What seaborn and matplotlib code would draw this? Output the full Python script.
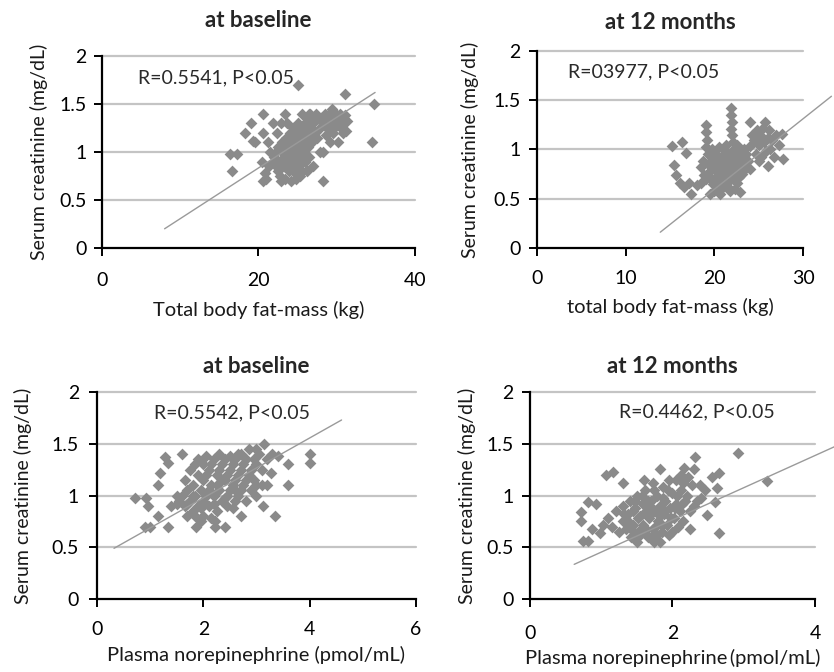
import matplotlib
matplotlib.use("Agg")
import matplotlib.pyplot as plt
import seaborn as sns
import pandas as pd

# ---------------- data ----------------
# Panel A: total body fat-mass at baseline
fat0_x = [16.3, 17.3, 16.6, 18.3, 19.1, 19.3, 19.6, 20.6, 20.6, 20.4, 20.6, 20.8, 21.0, 21.2, 21.9, 22.9,
          23.4, 22.9, 24.2, 25.0, 25.5, 26.6, 28.3, 27.8, 28.2, 29.1, 30.2, 31.2, 31.0, 34.7, 34.5,
          22.0, 22.2, 22.3, 22.5, 22.5, 22.7, 22.8, 23.0, 23.0, 23.2, 23.3, 23.4, 23.5, 23.5, 23.7, 23.8,
          23.9, 24.0, 24.0, 24.1, 24.2, 24.3, 24.4, 24.5, 24.5, 24.6, 24.7, 24.8, 24.9, 25.0, 25.0, 25.1,
          25.2, 25.3, 25.4, 25.5, 25.6, 25.7, 25.8, 25.9, 26.0, 26.0, 26.2, 26.3, 26.4, 26.5, 26.7, 26.8,
          27.0, 27.0, 27.2, 27.5, 27.5, 27.8, 23.6, 22.4, 21.8, 21.5, 21.3, 24.8, 25.3, 26.2,
          28.0, 28.3, 28.5, 28.7, 28.9, 29.0, 29.2, 29.4, 29.5, 29.7, 29.9, 30.0, 30.2, 30.4, 30.5, 30.7,
          30.9, 31.1, 31.3, 28.6, 29.5, 30.8, 26.5, 27.3,
          23.8, 24.6, 25.2, 25.6, 26.1, 24.4, 23.2, 25.8]
cre0_x = [0.98, 0.98, 0.80, 1.20, 1.30, 1.11, 1.10, 1.40, 1.20, 0.90, 0.70, 0.78, 0.72, 1.10, 1.30, 1.30,
          1.40, 0.70, 0.70, 1.70, 1.40, 1.40, 0.70, 1.00, 1.00, 1.10, 1.10, 1.22, 1.60, 1.50, 1.10,
          0.95, 1.00, 0.85, 0.80, 1.05, 0.90, 0.75, 1.00, 1.10, 0.85, 0.95, 0.72, 1.05, 1.15, 0.90, 1.00,
          0.80, 1.10, 1.20, 0.95, 1.05, 0.85, 1.25, 1.00, 1.15, 0.90, 0.78, 1.10, 1.20, 1.00, 0.85, 1.30,
          1.05, 0.95, 1.15, 1.25, 0.80, 1.10, 1.00, 1.30, 0.90, 1.20, 1.35, 1.05, 1.15, 0.95, 1.25, 1.10,
          1.30, 0.85, 1.20, 1.15, 1.35, 1.25, 1.30, 1.20, 0.90, 1.00, 0.85, 0.72, 0.75, 0.80,
          1.35, 1.30, 1.40, 1.25, 1.35, 1.40, 1.30, 1.45, 1.35, 1.25, 1.40, 1.30, 1.35, 1.40, 1.25, 1.35,
          1.30, 1.38, 1.32, 1.18, 1.20, 1.20, 1.40, 1.40,
          1.05, 1.10, 1.20, 1.00, 1.10, 0.92, 1.00, 1.20]

# Panel B: total body fat-mass at 12 months
fat12_x = [15.2, 16.3, 16.8, 15.5, 15.7, 16.1, 16.6, 17.1, 17.4, 18.0, 18.5, 18.8, 18.5, 19.5, 20.6, 22.9,
           22.3, 21.5,
           19.1, 19.1, 19.2, 19.0, 19.3,
           21.9, 21.9, 22.0, 21.9, 22.0, 22.1,
           19.3, 19.5, 19.6, 19.8, 19.9, 20.0, 20.1, 20.2, 20.3, 20.4, 20.5, 20.6, 20.7, 20.8, 20.9, 21.0,
           21.0, 21.1, 21.2, 21.3, 21.4, 21.5, 21.6, 21.7, 21.8, 21.9, 22.0, 22.1, 22.2, 22.3, 22.4, 22.5,
           22.6, 22.7, 22.8, 23.0, 23.1, 23.2, 23.4, 23.6, 23.8, 24.0, 19.7, 20.5, 21.3, 22.5, 23.3, 20.0,
           21.8, 19.0, 18.7,
           24.0, 24.2, 24.0, 24.5, 24.7, 24.8, 25.0, 25.2, 25.3, 25.5, 25.6, 25.7, 25.8, 26.0, 26.1, 26.2,
           26.3, 26.5, 26.7, 27.0, 27.3, 27.6, 27.7, 25.0, 23.1,
           20.8, 21.4, 21.9, 22.4, 20.3, 21.1, 22.8]
cre12_x = [1.03, 1.08, 0.96, 0.84, 0.74, 0.66, 0.62, 0.66, 0.55, 0.64, 0.66, 0.74, 0.82, 0.55, 0.55, 0.57,
           0.60, 0.62,
           1.25, 1.18, 1.10, 1.02, 0.95,
           1.42, 1.35, 1.28, 1.21, 1.15, 1.08,
           0.85, 0.78, 0.70, 0.90, 0.65, 0.80, 0.95, 0.72, 0.60, 0.85, 0.78, 0.68, 0.92, 0.82, 0.75, 1.00,
           0.62, 0.88, 0.70, 0.80, 0.95, 0.75, 0.85, 0.68, 0.90, 0.78, 0.98, 0.72, 0.85, 0.92, 0.78, 0.66,
           0.88, 0.80, 0.95, 0.85, 0.75, 0.90, 0.80, 0.95, 0.88, 0.80, 1.00, 1.02, 1.05, 1.05, 1.00, 0.58,
           0.58, 0.70, 0.88,
           1.28, 1.15, 1.03, 1.10, 0.95, 1.20, 1.05, 1.15, 0.92, 1.22, 1.08, 1.28, 0.98, 1.12, 0.83, 1.20,
           1.00, 1.10, 0.92, 1.15, 1.05, 1.16, 0.90, 0.88, 0.83,
           0.70, 0.88, 0.85, 0.95, 0.90, 0.78, 0.72]

# Panel C: plasma norepinephrine at baseline
ne0 = [0.72, 0.93, 0.96, 0.90, 1.00, 1.15, 1.15, 1.18, 1.28, 1.34, 1.60, 1.34, 1.40, 1.50, 1.87, 2.22,
       2.22, 2.40, 2.70, 3.13, 3.35, 3.15, 4.00, 4.00, 3.60, 3.60, 3.28, 3.40, 3.00, 3.00, 3.10, 3.20,
       1.60, 1.65, 1.70, 1.70, 1.75, 1.80, 1.80, 1.85, 1.85, 1.90, 1.90, 1.95, 2.00, 2.00, 2.00, 2.05,
       2.05, 2.10, 2.10, 2.15, 2.20, 2.20, 2.25, 2.25, 2.30, 2.30, 2.35, 2.35, 2.40, 2.45, 2.45, 2.50,
       2.50, 2.55, 2.60, 2.60, 2.65, 2.70, 2.70, 2.75, 2.80, 2.80, 2.85, 2.90, 2.95, 3.00, 3.05, 3.10,
       3.20, 3.30, 2.55, 2.15, 1.95, 2.65, 1.55, 1.50,
       1.65, 1.75, 1.80, 1.90, 1.95, 2.05, 2.10, 2.15, 2.20, 2.25, 2.30, 2.35, 2.40, 2.40, 2.50, 2.55,
       2.60, 2.65, 2.70, 2.75, 2.80, 2.85, 2.90, 2.95, 3.00, 1.70, 1.85, 2.00, 2.45, 2.60]
cre0_n = [0.98, 0.98, 0.90, 0.70, 0.70, 0.80, 1.10, 1.22, 1.37, 1.31, 1.40, 0.70, 0.90, 0.92, 0.70, 0.70,
          0.75, 0.70, 0.80, 0.90, 0.80, 1.50, 1.40, 1.31, 1.30, 1.10, 1.22, 1.38, 1.00, 1.10, 1.10, 1.10,
          1.00, 0.90, 0.80, 1.05, 0.95, 1.10, 0.85, 1.00, 1.30, 0.90, 1.20, 1.05, 0.95, 1.15, 0.80, 1.38,
          1.00, 1.25, 0.90, 1.10, 1.35, 1.00, 0.85, 1.20, 1.05, 1.40, 0.95, 1.30, 1.15, 1.00, 0.90, 1.25,
          1.38, 1.10, 0.95, 1.35, 1.20, 1.05, 1.40, 1.30, 1.15, 0.95, 1.45, 1.25, 1.35, 1.30, 1.40, 1.25,
          1.35, 1.40, 0.88, 0.78, 0.75, 1.00, 0.95, 1.00,
          1.15, 1.25, 1.00, 1.35, 0.88, 1.20, 1.05, 1.30, 0.92, 1.10, 1.25, 1.15, 1.35, 0.98, 1.05, 1.30,
          1.15, 1.40, 1.25, 1.10, 1.35, 1.20, 1.05, 1.15, 1.45, 0.92, 0.80, 1.30, 1.20, 1.05]

# Panel D: plasma norepinephrine at 12 months
ne12 = [0.72, 0.72, 0.75, 0.82, 0.82, 0.93, 0.87, 0.98, 1.02, 1.06, 1.17, 1.10, 1.15, 1.20, 1.31, 1.50,
        1.74, 1.82, 1.83, 2.32, 2.30, 2.16, 2.92, 3.33, 2.65, 2.56, 2.63, 2.59, 2.49, 2.39, 2.65, 2.45,
        2.35, 2.25, 2.20, 2.12, 2.05, 2.00, 2.08,
        1.25, 1.30, 1.30, 1.35, 1.38, 1.40, 1.42, 1.45, 1.48, 1.50, 1.52, 1.55, 1.58, 1.60, 1.62, 1.63,
        1.65, 1.67, 1.70, 1.72, 1.73, 1.75, 1.78, 1.80, 1.82, 1.85, 1.87, 1.88, 1.90, 1.92, 1.95, 1.97,
        2.00, 2.02, 2.05, 2.10, 2.12, 2.15, 1.60, 1.68, 1.45, 1.55, 1.75, 1.95, 2.25,
        1.32, 1.40, 1.47, 1.52, 1.57, 1.62, 1.66, 1.70, 1.74, 1.78, 1.82, 1.86, 1.90, 1.93, 1.98, 2.03,
        2.07, 2.13, 1.58, 1.70, 1.85, 1.44, 1.36, 2.22, 2.28, 2.18, 2.30, 2.40, 2.15]
cre12_n = [0.84, 0.75, 0.56, 0.56, 0.94, 0.92, 0.68, 0.64, 0.72, 1.20, 1.23, 0.78, 0.70, 0.85, 1.12, 0.55,
           0.55, 0.55, 1.26, 1.37, 1.26, 1.27, 1.41, 1.14, 1.22, 1.18, 1.07, 0.94, 0.81, 1.10, 0.64, 1.05,
           0.95, 0.85, 1.00, 1.20, 1.15, 0.65, 0.70,
           0.65, 0.75, 0.90, 0.68, 0.82, 0.95, 0.60, 0.72, 0.88, 1.00, 0.65, 0.80, 0.92, 0.70, 1.05, 0.85,
           0.60, 0.78, 0.95, 1.12, 0.68, 0.85, 1.00, 0.75, 0.90, 0.65, 1.08, 0.82, 0.95, 0.72, 1.15, 0.88,
           1.02, 0.78, 0.92, 0.85, 1.05, 0.75, 1.15, 0.90, 0.85, 0.62, 0.70, 0.62, 0.68,
           0.82, 0.70, 0.95, 0.78, 1.00, 0.66, 0.95, 0.82, 1.05, 0.62, 0.80, 0.98, 0.85, 1.05, 0.78, 0.88,
           1.00, 0.92, 0.72, 0.60, 0.72, 0.66, 0.76, 1.18, 1.10, 0.95, 0.90, 0.98, 1.12]

# trend lines (end points)
trend_x = [[8.0, 34.9], [13.9, 33.2], [0.32, 4.6], [0.62, 4.30]]
trend_y = [[0.20, 1.62], [0.16, 1.54], [0.49, 1.73], [0.335, 1.48]]

titles = ["at baseline", "at 12 months", "at baseline", "at 12 months"]
xlabels = ["Total body fat-mass (kg)", "total body fat-mass (kg)",
           "Plasma norepinephrine (pmol/mL)", "Plasma norepinephrine\u2009(pmol/mL)"]
ylabel = "Serum creatinine (mg/dL)"
notes = ["R=0.5541, P<0.05", "R=03977, P<0.05", "R=0.5542, P<0.05", "R=0.4462, P<0.05"]
xticks = [[0, 20, 40], [0, 10, 20, 30], [0, 2, 4, 6], [0, 2, 4]]
yticks = [0, 0.5, 1, 1.5, 2]
ytick_labels = ["0", "0.5", "1", "1.5", "2"]

# ---------------- drawing ----------------
sns.set_style("white")
plt.rcParams["font.family"] = ["Lato", "DejaVu Sans"]

fig = plt.figure(figsize=(8.34, 6.72), dpi=100)
rects = [[0.1223, 0.631, 0.3753, 0.2857],
         [0.6439, 0.631, 0.3190, 0.2932],
         [0.1163, 0.1086, 0.3825, 0.3080],
         [0.6355, 0.1086, 0.3417, 0.3080]]
datasets = [(fat0_x, cre0_x), (fat12_x, cre12_x), (ne0, cre0_n), (ne12, cre12_n)]
note_pos = [(4.6, 1.77), (3.5, 1.79), (1.07, 1.80), (1.25, 1.81)]
title_pad = [21, 16, 14, 14]
xtick_pad = [11, 10, 9.5, 12.5]
ytick_pad = [5, 6, 7, 6]
xlabel_pad = [9, 8, 6, 5.5]
ylabel_pad = [8, 10, 14, 7]

for i in range(4):
    ax = fig.add_axes(rects[i])
    xs, ys = datasets[i]
    df = pd.DataFrame({"x": xs, "y": ys})
    xmax = xticks[i][-1]
    for yv in yticks[1:]:
        ax.plot([0, xmax], [yv, yv], color="#c4c4c4", lw=1.6, zorder=0, clip_on=False)
    sns.scatterplot(data=df, x="x", y="y", marker="D", s=36, color="#8a8a8a",
                    linewidth=0, ax=ax, zorder=3)
    ax.plot(trend_x[i], trend_y[i], color="#9a9a9a", lw=1.0, zorder=4, clip_on=False)
    ax.set_xlim(0, xmax)
    ax.set_ylim(0, 2)
    ax.set_xticks(xticks[i])
    ax.set_yticks(yticks)
    ax.set_yticklabels(ytick_labels)
    ax.tick_params(axis="both", direction="out", length=6, width=1.4, color="black",
                   labelsize=14, labelcolor="black", left=True, bottom=True)
    ax.tick_params(axis="x", pad=xtick_pad[i])
    ax.tick_params(axis="y", pad=ytick_pad[i])
    for side in ["top", "right"]:
        ax.spines[side].set_visible(False)
    for side in ["left", "bottom"]:
        ax.spines[side].set_color("black")
        ax.spines[side].set_linewidth(1.6)
    ax.set_title(titles[i], fontsize=16, fontweight="bold", pad=title_pad[i])
    ax.set_xlabel(xlabels[i], fontsize=14.5, labelpad=xlabel_pad[i], color="#1a1a1a")
    ax.set_ylabel(ylabel, fontsize=14, labelpad=ylabel_pad[i], color="#1a1a1a")
    ax.text(note_pos[i][0], note_pos[i][1], notes[i], fontsize=14, va="center",
            ha="left", color="#2a2a2a")

fig.savefig("out.png", dpi=100)
